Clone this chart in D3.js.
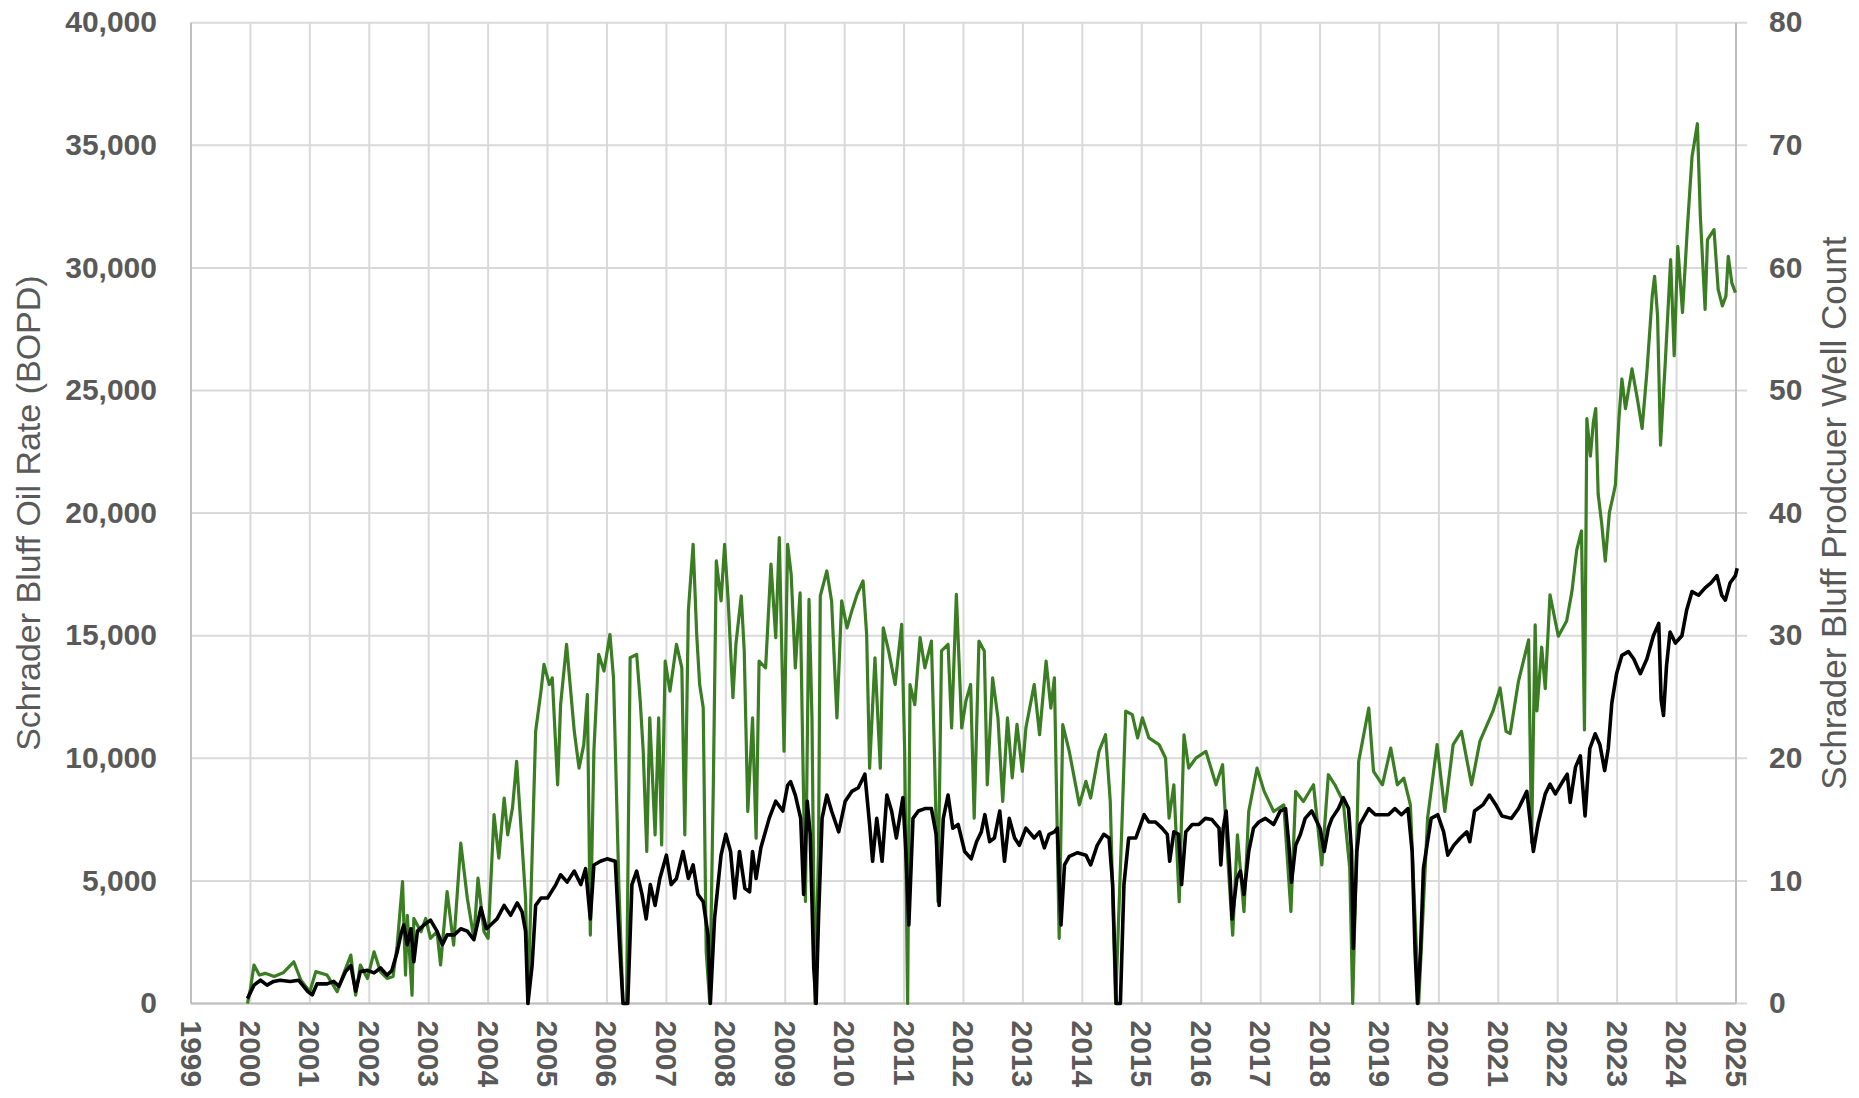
<!DOCTYPE html>
<html><head><meta charset="utf-8">
<script src="https://cdn.jsdelivr.net/npm/d3@7"></script>
<style>html,body{margin:0;padding:0;background:#fff;}svg{display:block;}</style>
</head><body>
<svg id="chart" width="1859" height="1098"></svg>
<script>
// ---- data (decimal years) ----
const yearTicks = d3.range(1999, 2026);
const leftTicks = [0, 5000, 10000, 15000, 20000, 25000, 30000, 35000, 40000];
const rightTicks = [0, 10, 20, 30, 40, 50, 60, 70, 80];
const leftTitle = "Schrader Bluff Oil Rate (BOPD)";
const rightTitle = "Schrader Bluff Prodcuer Well Count";

const oilYears = [1999.95,2000.0,2000.06,2000.15,2000.25,2000.4,2000.55,2000.73,2000.85,2001.0,2001.1,2001.29,2001.46,2001.58,2001.69,2001.77,2001.85,2001.97,2002.08,2002.19,2002.3,2002.4,2002.47,2002.56,2002.61,2002.64,2002.72,2002.75,2002.87,2002.95,2003.03,2003.14,2003.2,2003.31,2003.42,2003.54,2003.65,2003.76,2003.83,2003.93,2004.0,2004.1,2004.18,2004.27,2004.33,2004.41,2004.48,2004.55,2004.63,2004.67,2004.72,2004.8,2004.89,2004.94,2005.03,2005.08,2005.17,2005.22,2005.32,2005.45,2005.53,2005.61,2005.67,2005.72,2005.78,2005.86,2005.95,2006.05,2006.11,2006.2,2006.27,2006.33,2006.39,2006.5,2006.56,2006.61,2006.67,2006.72,2006.81,2006.87,2006.92,2006.98,2007.06,2007.17,2007.26,2007.31,2007.37,2007.45,2007.51,2007.56,2007.62,2007.67,2007.73,2007.79,2007.84,2007.92,2007.98,2008.04,2008.12,2008.17,2008.26,2008.31,2008.37,2008.45,2008.51,2008.56,2008.67,2008.76,2008.84,2008.9,2008.98,2009.04,2009.1,2009.17,2009.25,2009.3,2009.34,2009.4,2009.45,2009.5,2009.56,2009.59,2009.7,2009.78,2009.87,2009.95,2010.04,2010.12,2010.21,2010.31,2010.37,2010.42,2010.51,2010.6,2010.65,2010.74,2010.85,2010.96,2011.01,2011.06,2011.1,2011.18,2011.27,2011.35,2011.46,2011.51,2011.57,2011.63,2011.74,2011.8,2011.88,2011.97,2012.04,2012.12,2012.18,2012.26,2012.35,2012.4,2012.49,2012.58,2012.66,2012.74,2012.82,2012.9,2012.99,2013.05,2013.19,2013.28,2013.39,2013.47,2013.53,2013.61,2013.67,2013.78,2013.95,2014.06,2014.14,2014.28,2014.39,2014.47,2014.56,2014.67,2014.73,2014.84,2014.93,2015.01,2015.12,2015.29,2015.4,2015.46,2015.54,2015.63,2015.71,2015.79,2015.91,2016.08,2016.25,2016.36,2016.44,2016.53,2016.61,2016.72,2016.8,2016.94,2017.06,2017.22,2017.39,2017.51,2017.59,2017.72,2017.89,2018.03,2018.14,2018.25,2018.39,2018.5,2018.55,2018.65,2018.82,2018.9,2019.05,2019.19,2019.3,2019.41,2019.52,2019.6,2019.66,2019.81,2019.97,2020.1,2020.24,2020.38,2020.55,2020.69,2020.91,2021.03,2021.13,2021.2,2021.34,2021.51,2021.56,2021.62,2021.65,2021.73,2021.79,2021.87,2022.01,2022.15,2022.24,2022.32,2022.4,2022.45,2022.49,2022.55,2022.6,2022.64,2022.68,2022.74,2022.8,2022.87,2022.94,2022.97,2023.03,2023.08,2023.14,2023.25,2023.34,2023.42,2023.5,2023.59,2023.63,2023.68,2023.73,2023.81,2023.9,2023.96,2024.02,2024.1,2024.18,2024.26,2024.35,2024.4,2024.48,2024.52,2024.63,2024.7,2024.77,2024.83,2024.87,2024.93,2024.99];
const oilRate = [0,600,1570,1160,1230,1100,1250,1700,950,480,1300,1160,480,1290,1975,340,1570,1020,2110,1290,1020,1100,2380,4970,1160,3600,340,3470,2930,3470,2660,2930,1570,4560,2380,6540,4290,2660,5110,2930,2660,7700,5930,8380,6880,7970,9880,7290,4290,0,4290,11100,12740,13830,13010,13280,8920,12190,14650,11100,9600,10560,12600,2790,10290,14240,13560,15050,13280,4840,0,0,14100,14240,12330,10290,6200,11650,6880,11650,6470,13960,12740,14650,13690,6880,16010,18730,15050,13010,12060,2110,0,8920,18050,16420,18730,16420,12470,14650,16620,14380,7830,11650,6740,13960,13690,17920,14920,19000,10290,18730,17500,13690,16750,9600,4160,16480,11650,0,6200,16620,17640,16420,11650,16420,15320,16010,16690,17230,15050,9600,14100,9600,15320,14380,13010,15460,10290,0,13010,12190,14920,13690,14780,10290,4160,14380,14650,11240,16690,11240,12330,13010,7560,14780,14380,8920,13280,11650,8240,11650,9200,11380,9470,11240,13010,10960,13960,12050,13280,2660,11370,10280,8100,9060,8380,10280,10960,8240,0,7560,11920,11780,10830,11650,10830,10560,10010,7560,8920,4150,10960,9600,10010,10280,8920,9740,6200,2790,6880,3750,7830,9600,8650,7830,8100,3750,8650,8240,8920,5650,9330,8920,8240,5520,0,9870,12050,9470,8920,10420,8920,9190,8100,3470,0,7560,10560,7830,10560,11100,8920,10690,11920,12870,11100,11010,13150,14830,6570,15440,11930,14530,12840,16670,14980,15600,16820,18500,19270,11160,23850,22320,23720,24260,20790,19570,18040,20030,20790,21150,23850,25470,24260,25880,24660,23450,25740,28850,29660,28040,22770,26150,30340,26420,30880,28180,31560,34530,35880,32100,28310,31150,31560,29120,28450,28850,30470,29390,28990];

const wellYears = [1999.95,2000.06,2000.17,2000.28,2000.39,2000.5,2000.67,2000.81,2000.96,2001.04,2001.12,2001.29,2001.4,2001.49,2001.6,2001.69,2001.77,2001.85,2001.97,2002.08,2002.19,2002.3,2002.38,2002.47,2002.53,2002.58,2002.64,2002.7,2002.75,2002.81,2002.92,2003.03,2003.14,2003.23,2003.31,2003.43,2003.54,2003.65,2003.76,2003.88,2003.97,2004.04,2004.15,2004.27,2004.38,2004.49,2004.57,2004.63,2004.67,2004.74,2004.8,2004.89,2005.0,2005.14,2005.22,2005.33,2005.45,2005.56,2005.64,2005.72,2005.78,2005.89,2006.0,2006.14,2006.22,2006.27,2006.35,2006.42,2006.5,2006.59,2006.66,2006.73,2006.81,2006.89,2007.0,2007.08,2007.17,2007.28,2007.37,2007.45,2007.53,2007.62,2007.7,2007.74,2007.81,2007.92,2008.0,2008.08,2008.15,2008.23,2008.32,2008.4,2008.45,2008.51,2008.59,2008.73,2008.84,2008.96,2009.04,2009.09,2009.17,2009.26,2009.31,2009.37,2009.42,2009.48,2009.52,2009.56,2009.62,2009.7,2009.78,2009.9,2010.01,2010.12,2010.23,2010.34,2010.42,2010.47,2010.54,2010.63,2010.71,2010.79,2010.87,2010.98,2011.03,2011.08,2011.15,2011.24,2011.35,2011.46,2011.54,2011.59,2011.66,2011.74,2011.82,2011.91,2012.02,2012.13,2012.22,2012.3,2012.36,2012.44,2012.52,2012.61,2012.69,2012.77,2012.86,2012.94,2013.05,2013.19,2013.28,2013.36,2013.44,2013.53,2013.58,2013.61,2013.64,2013.7,2013.78,2013.92,2014.06,2014.14,2014.25,2014.36,2014.45,2014.51,2014.57,2014.64,2014.7,2014.78,2014.9,2015.04,2015.12,2015.23,2015.34,2015.43,2015.47,2015.54,2015.62,2015.67,2015.74,2015.85,2015.96,2016.07,2016.18,2016.3,2016.33,2016.37,2016.42,2016.48,2016.52,2016.6,2016.66,2016.72,2016.8,2016.88,2016.97,2017.08,2017.22,2017.33,2017.42,2017.48,2017.52,2017.59,2017.67,2017.75,2017.86,2018.0,2018.07,2018.14,2018.2,2018.31,2018.39,2018.48,2018.53,2018.56,2018.62,2018.67,2018.82,2018.93,2019.04,2019.15,2019.26,2019.37,2019.48,2019.55,2019.6,2019.64,2019.69,2019.74,2019.87,2019.98,2020.08,2020.15,2020.25,2020.36,2020.47,2020.52,2020.6,2020.74,2020.85,2020.96,2021.06,2021.22,2021.34,2021.48,2021.54,2021.59,2021.67,2021.79,2021.87,2021.96,2022.07,2022.16,2022.21,2022.3,2022.38,2022.46,2022.54,2022.63,2022.71,2022.79,2022.85,2022.91,2022.99,2023.08,2023.19,2023.28,2023.39,2023.5,2023.61,2023.7,2023.74,2023.78,2023.83,2023.89,2023.98,2024.09,2024.17,2024.26,2024.37,2024.48,2024.58,2024.68,2024.76,2024.82,2024.9,2024.99,2025.02];
const wellCount = [0.4,1.5,1.9,1.5,1.8,1.9,1.8,1.9,1.0,0.7,1.6,1.6,1.8,1.4,2.6,3.1,1.0,2.6,2.7,2.5,2.9,2.3,2.7,4.2,5.6,6.4,4.8,6.1,3.4,5.9,6.4,6.8,5.9,4.8,5.6,5.6,6.1,5.9,5.2,7.8,6.1,6.4,6.9,8.0,7.2,8.2,7.5,5.9,0,3.1,8.0,8.6,8.6,9.7,10.5,9.9,10.8,9.7,11.0,6.9,11.3,11.6,11.8,11.6,4.2,0,0,9.7,10.8,8.9,6.9,9.7,8.0,10.2,12.1,9.7,10.2,12.4,10.2,11.3,8.9,8.3,5.6,0,6.9,12.1,13.8,12.4,8.6,12.4,9.4,9.1,12.4,10.2,12.7,15.1,16.5,15.7,17.8,18.1,17.0,15.1,8.9,16.5,13.8,2.9,0,6.9,15.1,17.0,15.7,14.0,16.5,17.3,17.6,18.7,14.6,11.6,15.1,11.6,17.0,15.7,13.5,16.8,12.4,6.4,15.1,15.7,15.9,15.9,13.8,8.0,15.1,17.0,14.3,14.6,12.4,11.8,13.2,14.0,15.4,13.2,13.5,15.7,11.6,15.1,13.5,12.9,14.3,13.5,14.0,12.7,13.8,14.0,14.3,10.2,6.4,11.3,12.0,12.3,12.1,11.3,12.9,13.8,13.5,9.7,0,0,9.7,13.5,13.5,15.4,14.8,14.8,14.3,13.8,11.6,14.0,13.8,9.7,14.0,14.6,14.6,15.1,15.0,14.3,11.3,14.3,15.7,11.0,6.9,10.2,10.8,8.9,12.4,14.3,14.8,15.1,14.6,15.7,15.9,12.7,9.9,12.9,13.8,15.1,15.7,14.3,12.4,14.3,15.1,15.9,16.8,15.9,12.4,4.5,12.4,14.6,15.9,15.4,15.4,15.4,15.9,15.4,15.9,12.4,4.2,0,4.2,11.0,15.1,15.4,14.0,12.1,12.9,13.5,14.0,13.2,15.7,16.2,17.0,16.2,15.3,15.1,15.9,17.3,14.7,12.4,14.7,17.1,17.9,17.1,18.0,18.7,16.4,19.3,20.2,15.3,20.8,22.0,21.1,19.0,20.8,24.5,26.9,28.4,28.7,28.1,26.9,28.1,30.0,31.0,24.8,23.5,27.5,30.3,29.4,30.0,32.1,33.6,33.3,33.9,34.3,34.9,33.3,32.9,34.3,34.9,35.5];

// ---- chart ----
const W = 1859, H = 1098;
const plot = {left: 191, right: 1736, top: 22.7, bottom: 1003.5};
const svg = d3.select("#chart");
svg.append("rect").attr("width", W).attr("height", H).attr("fill", "#fff");

const x = d3.scaleLinear().domain([1999, 2025]).range([plot.left, plot.right]);
const yL = d3.scaleLinear().domain([0, 40000]).range([plot.bottom, plot.top]);
const yR = d3.scaleLinear().domain([0, 80]).range([plot.bottom, plot.top]);

const gridColor = "#d9d9d9", axisColor = "#bfbfbf", textColor = "#595959";
const font = "'Liberation Sans', Arial, sans-serif";

// horizontal gridlines (extend as right-axis tick marks)
svg.append("g").selectAll("line").data(leftTicks).join("line")
  .attr("x1", plot.left).attr("x2", plot.right + 11)
  .attr("y1", d => yL(d)).attr("y2", d => yL(d))
  .attr("stroke", gridColor).attr("stroke-width", 2);
// vertical gridlines
svg.append("g").selectAll("line").data(yearTicks).join("line")
  .attr("x1", d => x(d)).attr("x2", d => x(d))
  .attr("y1", plot.top).attr("y2", plot.bottom)
  .attr("stroke", gridColor).attr("stroke-width", 2);

// axis lines
const axes = svg.append("g").attr("stroke", axisColor).attr("stroke-width", 2);
axes.append("line").attr("x1", plot.left).attr("x2", plot.left).attr("y1", plot.top).attr("y2", plot.bottom);
axes.append("line").attr("x1", plot.right).attr("x2", plot.right).attr("y1", plot.top).attr("y2", plot.bottom);
axes.append("line").attr("x1", plot.left).attr("x2", plot.right).attr("y1", plot.bottom).attr("y2", plot.bottom);

// tick labels
const fmt = d3.format(",");
svg.append("g").selectAll("text").data(leftTicks).join("text")
  .attr("x", plot.left - 34).attr("y", d => yL(d)).attr("dy", "0.32em")
  .attr("text-anchor", "end").attr("font-family", font).attr("font-weight", "bold")
  .attr("font-size", 30).attr("fill", textColor).text(d => fmt(d));
svg.append("g").selectAll("text").data(rightTicks).join("text")
  .attr("x", plot.right + 33).attr("y", d => yR(d)).attr("dy", "0.32em")
  .attr("text-anchor", "start").attr("font-family", font).attr("font-weight", "bold")
  .attr("font-size", 30).attr("fill", textColor).text(d => d);
svg.append("g").selectAll("text").data(yearTicks).join("text")
  .attr("transform", d => `translate(${x(d)},${plot.bottom + 17}) rotate(90)`)
  .attr("dy", "0.35em").attr("text-anchor", "start")
  .attr("font-family", font).attr("font-weight", "bold")
  .attr("font-size", 30).attr("fill", textColor).text(d => d);

// axis titles
svg.append("text").attr("transform", `translate(40,${(plot.top + plot.bottom) / 2}) rotate(-90)`)
  .attr("text-anchor", "middle").attr("font-family", font).attr("font-size", 34)
  .attr("fill", textColor).text(leftTitle);
svg.append("text").attr("transform", `translate(1846,${(plot.top + plot.bottom) / 2}) rotate(-90)`)
  .attr("text-anchor", "middle").attr("font-family", font).attr("font-size", 35)
  .attr("fill", textColor).text(rightTitle);

// lines
const oilData = oilYears.map((t, i) => [t, oilRate[i]]);
const wellData = wellYears.map((t, i) => [t, wellCount[i]]);
svg.append("path").datum(oilData)
  .attr("d", d3.line().x(d => x(d[0])).y(d => yL(d[1])))
  .attr("fill", "none").attr("stroke", "#3a7d22").attr("stroke-width", 3.2)
  .attr("stroke-linejoin", "round");
svg.append("path").datum(wellData)
  .attr("d", d3.line().x(d => x(d[0])).y(d => yR(d[1])))
  .attr("fill", "none").attr("stroke", "#000").attr("stroke-width", 3.6)
  .attr("stroke-linejoin", "round");
</script>
</body></html>
